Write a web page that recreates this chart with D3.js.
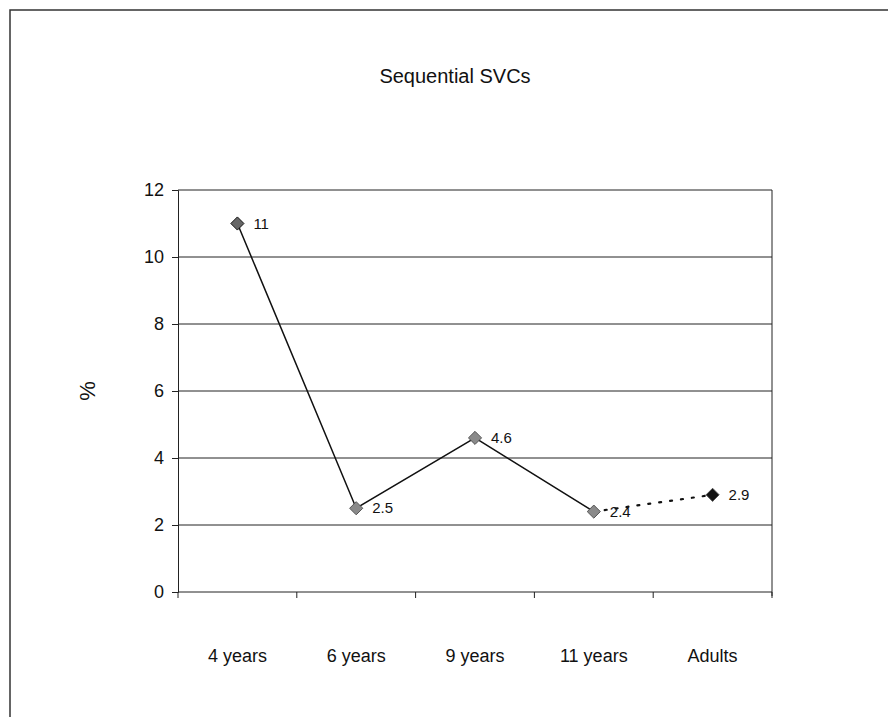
<!DOCTYPE html>
<html>
<head>
<meta charset="utf-8">
<script src="https://cdn.jsdelivr.net/npm/d3@7"></script>
<style>
  html, body { margin: 0; padding: 0; background: #fff; }
  svg { display: block; font-family: "Liberation Sans", Arial, sans-serif; }
</style>
</head>
<body>
<svg id="chart" width="888" height="717"></svg>
<script>
// Sequential SVC prevalence by age group
const categories = ["4 years", "6 years", "9 years", "11 years", "Adults"];
const values = [11, 2.5, 4.6, 2.4, 2.9];
const yTicks = [0, 2, 4, 6, 8, 10, 12];
const markerFill = ["#666666", "#8a8a8a", "#8a8a8a", "#8a8a8a", "#111111"];

const svg = d3.select("#chart");
const m = { left: 178, right: 772, top: 190, bottom: 592 };

// Outer frame (top and left edges)
svg.append("path")
  .attr("d", "M10,717 L10,10 L888,10")
  .attr("fill", "none").attr("stroke", "#333").attr("stroke-width", 1.5);

const x = d3.scaleBand().domain(categories).range([m.left, m.right]).paddingInner(0).paddingOuter(0);
const y = d3.scaleLinear().domain([0, 12]).range([m.bottom, m.top]);

// Horizontal gridlines
svg.append("g").selectAll("line").data(yTicks.filter(d => d > 0)).join("line")
  .attr("x1", m.left).attr("x2", m.right)
  .attr("y1", d => y(d)).attr("y2", d => y(d))
  .attr("stroke", "#222").attr("stroke-width", 1);

// Right edge of plot area
svg.append("line")
  .attr("x1", m.right).attr("x2", m.right).attr("y1", m.top).attr("y2", m.bottom + 4)
  .attr("stroke", "#222").attr("stroke-width", 1);

// Y axis
const yAxis = svg.append("g").attr("transform", `translate(${m.left},0)`)
  .call(d3.axisLeft(y).tickValues(yTicks).tickSize(6).tickPadding(8));
yAxis.select(".domain").attr("stroke", "#222");
yAxis.selectAll(".tick line").attr("stroke", "#222");
yAxis.selectAll(".tick text").attr("font-size", 18).attr("fill", "#111")
  .attr("font-family", "Liberation Sans, Arial, sans-serif");

// X axis with ticks at category boundaries
const xAxisG = svg.append("g").attr("transform", `translate(0,${m.bottom})`);
xAxisG.append("line").attr("x1", m.left).attr("x2", m.right).attr("y1", 0).attr("y2", 0)
  .attr("stroke", "#222").attr("stroke-width", 1);
const bounds = categories.map(c => x(c)).concat([m.right]);
xAxisG.selectAll("line.tk").data(bounds).join("line").attr("class", "tk")
  .attr("x1", d => d).attr("x2", d => d).attr("y1", 0).attr("y2", 6)
  .attr("stroke", "#222");
xAxisG.selectAll("text").data(categories).join("text")
  .attr("x", d => x(d) + x.bandwidth() / 2).attr("y", 70)
  .attr("text-anchor", "middle").attr("font-size", 18).attr("fill", "#111")
  .text(d => d);

// Y axis title
svg.append("text")
  .attr("transform", `translate(95,391) rotate(-90)`)
  .attr("text-anchor", "middle").attr("font-size", 22).attr("fill", "#111")
  .text("%");

// Title
svg.append("text")
  .attr("x", 455).attr("y", 83).attr("text-anchor", "middle")
  .attr("font-size", 20).attr("fill", "#111")
  .text("Sequential SVCs");

const cx = i => x(categories[i]) + x.bandwidth() / 2;
const pts = values.map((v, i) => [cx(i), y(v)]);

// Solid line through the childhood ages
svg.append("path")
  .attr("d", d3.line()(pts.slice(0, 4)))
  .attr("fill", "none").attr("stroke", "#111").attr("stroke-width", 1.5);

// Dotted link to adults
svg.append("path")
  .attr("d", d3.line()(pts.slice(3, 5)))
  .attr("fill", "none").attr("stroke", "#111").attr("stroke-width", 2.2)
  .attr("stroke-linecap", "round")
  .attr("stroke-dasharray", "2,9");

// Diamond markers
const diamond = d3.symbol().type(d3.symbolDiamond2).size(110);
svg.append("g").selectAll("path").data(values).join("path")
  .attr("transform", (d, i) => `translate(${cx(i)},${y(d)})`)
  .attr("d", diamond)
  .attr("fill", (d, i) => markerFill[i])
  .attr("stroke", (d, i) => i === 0 ? "#111" : "#555")
  .attr("stroke-width", 1);

// Value labels
svg.append("g").selectAll("text").data(values).join("text")
  .attr("x", (d, i) => cx(i) + 16).attr("y", d => y(d) + 5)
  .attr("font-size", 15).attr("fill", "#111")
  .text(d => d);
</script>
</body>
</html>
